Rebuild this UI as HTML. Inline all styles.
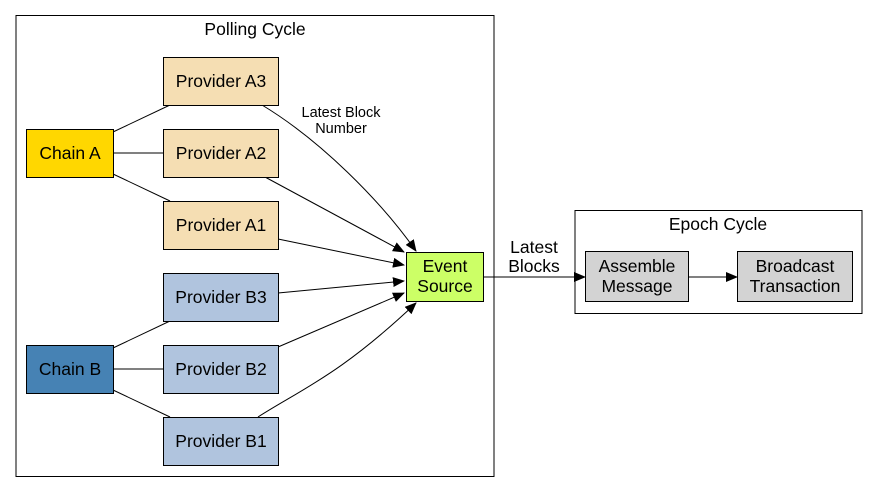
<!DOCTYPE html>
<html><head><style>body{margin:0;background:#fff}svg{display:block}text{font-family:"Liberation Sans",Arial,sans-serif}</style></head>
<body>
<svg width="879" height="492" viewBox="0 0 879 492" xmlns="http://www.w3.org/2000/svg">
<defs><marker id="ah" markerWidth="12" markerHeight="10" refX="11" refY="5" orient="auto" markerUnits="userSpaceOnUse"><path d="M0,0 L12,5 L0,10 z" fill="#000"/></marker></defs>
<rect x="16" y="15.5" width="478" height="461" fill="none" stroke="#000"/>
<text x="255" y="35" font-size="17.5" text-anchor="middle">Polling Cycle</text>
<rect x="575" y="210.5" width="287" height="103" fill="none" stroke="#000"/>
<text x="718" y="230" font-size="17.5" text-anchor="middle">Epoch Cycle</text>
<g stroke="#000" stroke-width="1" fill="none">
<line x1="113" y1="132" x2="170" y2="105"/>
<line x1="113" y1="153" x2="163" y2="153"/>
<line x1="113" y1="174" x2="170" y2="201"/>
<line x1="113" y1="348" x2="170" y2="321"/>
<line x1="113" y1="369" x2="163" y2="369"/>
<line x1="113" y1="390" x2="170" y2="417"/>
<path d="M262,105 C320,140 380,200 416,251" marker-end="url(#ah)"/>
<path d="M265,177 L404,252" marker-end="url(#ah)"/>
<path d="M278,239 L404,265" marker-end="url(#ah)"/>
<path d="M278,293 L404,281" marker-end="url(#ah)"/>
<path d="M278,347 L404,293" marker-end="url(#ah)"/>
<path d="M258,417 C300,390 340,375 416,303" marker-end="url(#ah)"/>
<path d="M484,277 L585,277" marker-end="url(#ah)"/>
<path d="M688,277 L737,277" marker-end="url(#ah)"/>
</g>
<g stroke="#000" text-anchor="middle">
<rect x="26.5" y="129.5" width="87" height="48" fill="#ffd700"/>
<rect x="26.5" y="345.5" width="87" height="48" fill="#4682b4"/>
<rect x="163.5" y="57.5" width="115" height="48" fill="#f5deb3"/>
<rect x="163.5" y="129.5" width="115" height="48" fill="#f5deb3"/>
<rect x="163.5" y="201.5" width="115" height="48" fill="#f5deb3"/>
<rect x="163.5" y="273.5" width="115" height="48" fill="#b0c4de"/>
<rect x="163.5" y="345.5" width="115" height="48" fill="#b0c4de"/>
<rect x="163.5" y="417.5" width="115" height="48" fill="#b0c4de"/>
<rect x="406.5" y="252.5" width="77" height="49" fill="#ccff66"/>
<rect x="585.5" y="251.5" width="103" height="50" fill="#d3d3d3"/>
<rect x="737.5" y="251.5" width="115" height="50" fill="#d3d3d3"/>
</g>
<g font-size="17.5" text-anchor="middle" fill="#000">
<text x="70" y="159">Chain A</text>
<text x="70" y="375">Chain B</text>
<text x="221" y="87">Provider A3</text>
<text x="221" y="159">Provider A2</text>
<text x="221" y="231">Provider A1</text>
<text x="221" y="303">Provider B3</text>
<text x="221" y="375">Provider B2</text>
<text x="221" y="447">Provider B1</text>
<text x="445" y="272">Event</text>
<text x="445" y="292">Source</text>
<text x="637" y="272">Assemble</text>
<text x="637" y="292">Message</text>
<text x="795" y="272">Broadcast</text>
<text x="795" y="292">Transaction</text>
<text x="534" y="253">Latest</text>
<text x="534" y="272">Blocks</text>
</g>
<text x="341" y="117" font-size="14.5" text-anchor="middle">Latest Block</text>
<text x="341" y="133" font-size="14.5" text-anchor="middle">Number</text>
</svg>
</body></html>
